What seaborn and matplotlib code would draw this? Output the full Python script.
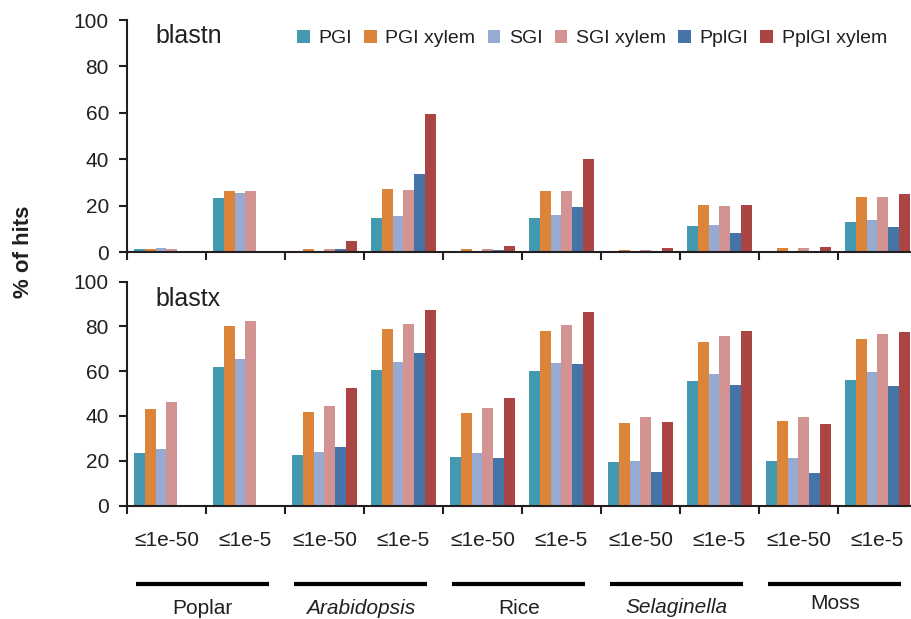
import numpy as np
import pandas as pd
import matplotlib
matplotlib.use("Agg")
import matplotlib.pyplot as plt
from matplotlib.patches import Patch
import seaborn as sns

# Categories
species = ["Poplar", "Arabidopsis", "Rice", "Selaginella", "Moss"]
thresholds = ["≤1e-50", "≤1e-5"]
series = ["PGI", "PGI xylem", "SGI", "SGI xylem", "PplGI", "PplGI xylem"]
colors = ["#4399b0", "#dc843a", "#96aad2", "#d39393", "#4574a8", "#ab4544"]
nan = np.nan

# % of hits, blastn (order: species x threshold)
blastn_pgi = [1.4, 23.3, 0.3, 14.7, 0.3, 14.7, 0.2, 11.2, 0.3, 12.9]
blastn_pgi_xylem = [1.4, 26.3, 1.4, 27.2, 1.4, 26.3, 0.9, 20.3, 1.7, 23.7]
blastn_sgi = [1.9, 25.6, 0.5, 15.5, 0.5, 15.9, 0.2, 11.6, 0.3, 13.8]
blastn_sgi_xylem = [1.4, 26.3, 1.4, 26.7, 1.4, 26.3, 0.9, 19.8, 1.7, 23.7]
blastn_pplgi = [nan, nan, 1.4, 33.6, 0.9, 19.4, 0.2, 8.2, 0.4, 10.8]
blastn_pplgi_xylem = [nan, nan, 4.9, 59.5, 2.6, 40.1, 1.7, 20.3, 2.2, 25.0]

# % of hits, blastx
blastx_pgi = [23.4, 61.8, 22.5, 60.5, 21.7, 60.0, 19.4, 55.6, 19.9, 56.0]
blastx_pgi_xylem = [43.1, 80.1, 41.7, 78.8, 41.3, 77.9, 36.8, 73.0, 37.7, 74.3]
blastx_sgi = [25.2, 65.4, 23.9, 64.1, 23.4, 63.6, 19.9, 58.7, 21.2, 59.6]
blastx_sgi_xylem = [46.2, 82.4, 44.4, 81.0, 43.5, 80.6, 39.5, 75.7, 39.5, 76.6]
blastx_pplgi = [nan, nan, 26.1, 68.1, 21.2, 63.2, 15.0, 53.8, 14.5, 53.3]
blastx_pplgi_xylem = [nan, nan, 52.5, 87.3, 48.0, 86.4, 37.3, 77.9, 36.4, 77.5]

yticks = [0, 20, 40, 60, 80, 100]

groups = [f"{s} {t}" for s in species for t in thresholds]
group_thr = [t for s in species for t in thresholds]

panels = {
    "blastn": [blastn_pgi, blastn_pgi_xylem, blastn_sgi, blastn_sgi_xylem,
               blastn_pplgi, blastn_pplgi_xylem],
    "blastx": [blastx_pgi, blastx_pgi_xylem, blastx_sgi, blastx_sgi_xylem,
               blastx_pplgi, blastx_pplgi_xylem],
}


def long_table(cols):
    rows = []
    for name, vals in zip(series, cols):
        for g, v in zip(groups, vals):
            rows.append({"group": g, "series": name, "value": v})
    return pd.DataFrame(rows)


sns.set_theme(style="ticks")
plt.rcParams["font.family"] = ["Liberation Sans", "DejaVu Sans"]
ink = "#231f20"
plt.rcParams["text.color"] = ink

fig = plt.figure(figsize=(9.12, 6.19), dpi=100)
W, H = 912, 619
left_px, right_px = 127, 917
ax_top = fig.add_axes([left_px / W, 1 - 252 / H, (right_px - left_px) / W, (252 - 20) / H])
ax_bot = fig.add_axes([left_px / W, 1 - 505.5 / H, (right_px - left_px) / W, (505.5 - 281.7) / H])

n = len(groups)
bounds = np.arange(-0.5, n, 1.0)
centers = np.arange(n)

for ax, (pname, cols) in zip([ax_top, ax_bot], panels.items()):
    df = long_table(cols)
    sns.barplot(data=df, x="group", y="value", hue="series", order=groups,
                hue_order=series, palette=colors, width=0.82, saturation=1,
                linewidth=0, errorbar=None, legend=False, ax=ax)
    ax.set_xlim(-0.5, n - 0.5)
    ax.set_ylim(0, 100)
    ax.set_yticks(yticks)
    ax.set_yticklabels([str(v) for v in yticks], fontsize=15, color=ink)
    ax.set_xticks(bounds)
    ax.set_xticklabels([])
    ax.set_xlabel("")
    ax.set_ylabel("")
    ax.tick_params(axis="both", which="major", length=6, width=1.5, color=ink, pad=7)
    sns.despine(ax=ax)
    for sp in ("left", "bottom"):
        ax.spines[sp].set_linewidth(1.5)
        ax.spines[sp].set_color(ink)
    ax.text(0.0354, 0.9 if pname == "blastn" else 0.89, pname, transform=ax.transAxes,
            fontsize=18, va="baseline", ha="left", color=ink)

# threshold labels under each group
ax_bot.set_xticks(centers, minor=True)
ax_bot.set_xticklabels(group_thr, minor=True, fontsize=15, color=ink)
ax_bot.tick_params(axis="x", which="minor", length=0, pad=18)

# species brackets and names
trans = ax_bot.get_xaxis_transform()
italic = {"Arabidopsis", "Selaginella"}
name_y = {"Poplar": -0.462, "Arabidopsis": -0.458, "Rice": -0.462,
          "Selaginella": -0.455, "Moss": -0.44}
for k, sp in enumerate(species):
    x0 = 2 * k
    ax_bot.plot([x0 - 0.39, x0 + 1.30], [-0.351, -0.351], transform=trans,
                clip_on=False, color="black", lw=3.0, solid_capstyle="butt")
    ax_bot.text(x0 + 0.46, name_y[sp], sp, transform=trans, ha="center", va="center",
                fontsize=15, color=ink, style="italic" if sp in italic else "normal")

# legend across the top panel
handles = [Patch(facecolor=c, edgecolor="none", label=s) for c, s in zip(colors, series)]
ax_top.legend(handles=handles, ncol=6, loc="center right",
              bbox_to_anchor=(887 / W, 1 - 38.5 / H), bbox_transform=fig.transFigure,
              frameon=False, fontsize=14, handlelength=0.65, handleheight=0.65,
              handletextpad=0.45, columnspacing=0.62, borderpad=0, borderaxespad=0)

fig.text(24 / W, 1 - 252 / H, "% of hits", rotation=90, fontsize=16,
         fontweight="bold", ha="center", va="center", color=ink)

fig.savefig("out.png", dpi=100)
